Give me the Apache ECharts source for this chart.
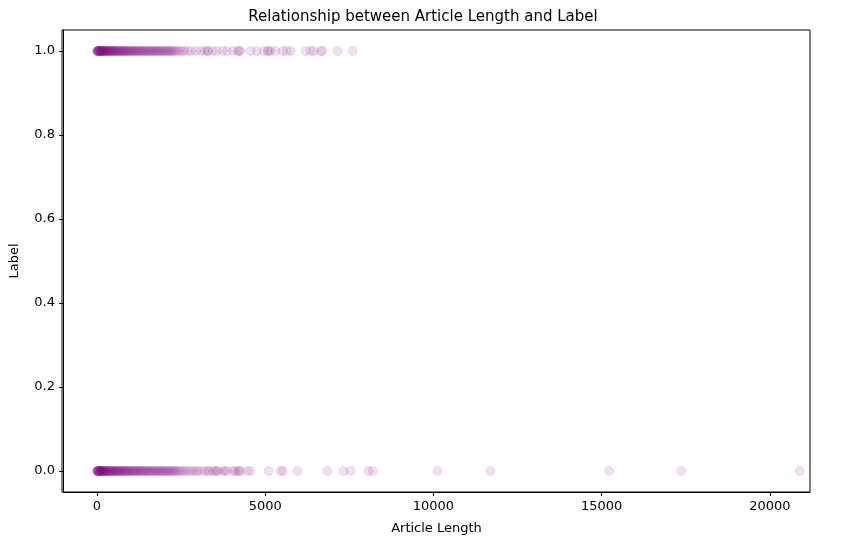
<!DOCTYPE html>
<html>
<head>
<meta charset="utf-8">
<script src="https://cdn.jsdelivr.net/npm/echarts@6/dist/echarts.min.js"></script>
<style>html,body{margin:0;padding:0;background:#fff}#main{width:846px;height:545px}</style>
</head>
<body>
<div id="main"></div>
<script>
// article lengths for label 1
const lengthsLabel1 = [
  2, 8, 15, 22, 30, 38, 46, 55, 64, 73, 82, 92, 102, 112, 123, 134, 145, 157, 169, 181, 194,
  207, 220, 234, 248, 262, 277, 292, 307, 323, 339, 355, 372, 389, 406, 424, 442, 460, 479,
  498, 517, 537, 557, 577, 598, 619, 640, 662, 684, 706, 729, 752, 775, 799, 823, 847, 872,
  897, 922, 948, 974, 1000, 1027, 1054, 1081, 1109, 1137, 1165, 1194, 1223, 1252, 1282, 1312,
  1342, 1373, 1404, 1435, 1467, 1499, 1531, 1564, 1597, 1630, 1664, 1698, 1732, 1767, 1802,
  1837, 1873, 1909, 1945, 1982, 2019, 2056, 2094, 2132, 2170, 2209, 2248, 2290, 2340, 2400,
  2460, 2530, 2600, 2700, 2800,
  2940, 3090, 3200, 3290, 3300, 3440, 3560, 3740, 3860, 4040, 4180, 4220, 4270, 4570, 4750,
  4960, 5070, 5100, 5160, 5310, 5520, 5640, 5760, 6200, 6350, 6440, 6650, 6700, 7150, 7600
];
// article lengths for label 0
const lengthsLabel0 = [
  1, 6, 12, 19, 26, 34, 42, 51, 60, 69, 79, 89, 99, 110, 121, 132, 144, 156, 168, 181, 194,
  208, 222, 236, 251, 266, 281, 297, 313, 329, 346, 363, 380, 398, 416, 434, 453, 472, 491,
  511, 531, 551, 572, 593, 614, 636, 658, 680, 703, 726, 749, 773, 797, 821, 846, 871, 896,
  922, 948, 974, 1001, 1028, 1055, 1083, 1111, 1139, 1168, 1197, 1226, 1256, 1286, 1316, 1347,
  1378, 1409, 1441, 1473, 1505, 1538, 1571, 1604, 1638, 1672, 1706, 1741, 1776, 1811, 1847,
  1883, 1919, 1956, 1993, 2030, 2068, 2106, 2144, 2183, 2222, 2261, 2301, 2341, 2390, 2440,
  2500, 2560, 2630, 2700, 2780, 2850, 2940, 3000, 3090, 3200, 3290, 3340, 3440, 3500, 3560,
  3600, 3740, 3800, 3860, 4040, 4100, 4180, 4220, 4270, 4470, 4570, 5100, 5460, 5520, 5960,
  6850, 7330, 7540, 8070, 8190, 10120, 11690, 15220, 17360, 20890
];
const labelValues = [1, 0];
const xTicks = [0, 5000, 10000, 15000, 20000];
const yTicks = [0, 0.2, 0.4, 0.6, 0.8, 1.0];

const points = [];
lengthsLabel1.forEach(v => points.push([v, labelValues[0]]));
lengthsLabel0.forEach(v => points.push([v, labelValues[1]]));

const font = { color: '#000', fontSize: 13, fontFamily: 'DejaVu Sans' };
const axisCommon = {
  axisLine: { show: true, onZero: false, lineStyle: { color: '#000' } },
  splitLine: { show: false },
  nameLocation: 'middle',
  nameTextStyle: font
};

const option = {
  title: {
    text: 'Relationship between Article Length and Label',
    left: 'center', top: 5,
    textStyle: { fontSize: 15, fontWeight: 'normal', color: '#000', fontFamily: 'DejaVu Sans' }
  },
  grid: { left: 62, right: 36, top: 30, bottom: 53 },
  xAxis: Object.assign({}, axisCommon, {
    type: 'value', min: -1009, max: 21190, name: 'Article Length', nameGap: 30,
    axisTick: { show: true, length: 4, lineStyle: { color: '#000' }, customValues: xTicks },
    axisLabel: Object.assign({}, font, { customValues: xTicks, formatter: v => String(v) })
  }),
  yAxis: Object.assign({}, axisCommon, {
    type: 'value', min: -0.05, max: 1.05, name: 'Label', nameGap: 42,
    axisTick: { show: true, length: 4, lineStyle: { color: '#000' }, customValues: yTicks },
    axisLabel: Object.assign({}, font, { customValues: yTicks, formatter: v => v.toFixed(1) })
  }),
  series: [{
    type: 'scatter',
    data: points,
    symbolSize: 9,
    itemStyle: { color: 'rgba(128,0,128,0.15)', borderColor: 'rgba(128,0,128,0.12)', borderWidth: 1 },
    emphasis: { disabled: true }
  }],
  graphic: [{
    type: 'rect', shape: { x: 62, y: 30, width: 748, height: 462 },
    style: { fill: 'none', stroke: '#000', lineWidth: 1 }, silent: true
  }],
  animation: false
};

let myChart = echarts.init(document.getElementById('main'));
myChart.setOption(option);
</script>
</body>
</html>
